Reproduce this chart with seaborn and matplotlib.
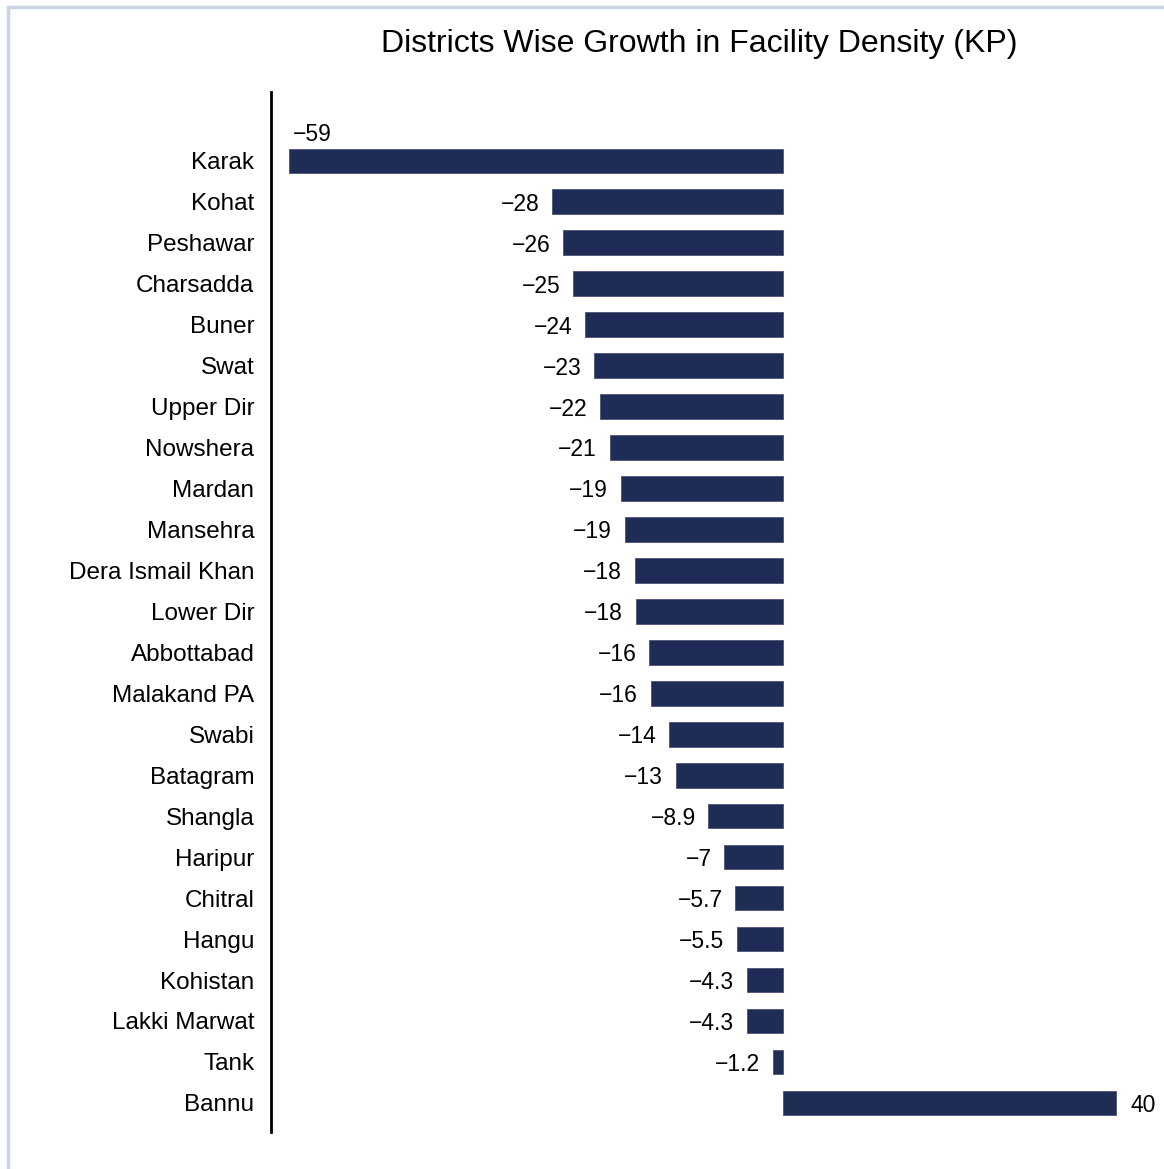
import seaborn as sns
import matplotlib.pyplot as plt
from matplotlib.lines import Line2D
import pandas as pd

# data
districts = ["Karak", "Kohat", "Peshawar", "Charsadda", "Buner", "Swat", "Upper Dir",
             "Nowshera", "Mardan", "Mansehra", "Dera Ismail Khan", "Lower Dir",
             "Abbottabad", "Malakand PA", "Swabi", "Batagram", "Shangla", "Haripur",
             "Chitral", "Hangu", "Kohistan", "Lakki Marwat", "Tank", "Bannu"]
growth = [-59.1, -27.6, -26.3, -25.1, -23.6, -22.6, -21.8,
          -20.7, -19.4, -18.9, -17.7, -17.6,
          -16.0, -15.8, -13.6, -12.8, -8.9, -7.0,
          -5.7, -5.5, -4.3, -4.3, -1.2, 39.8]

df = pd.DataFrame({"district": districts, "growth": growth})

sns.set_theme(style="white")
plt.rcParams['font.family'] = ['Liberation Sans', 'DejaVu Sans']

fig = plt.figure(figsize=(11.64, 11.69), dpi=100)
ax = fig.add_axes([271 / 1164, 1 - 1132 / 1169, 1 - 271 / 1164, (1132 - 92) / 1169])

bar_color = "#1f2c55"
sns.barplot(data=df, x="growth", y="district", orient="h", color=bar_color,
            saturation=1, width=0.6, edgecolor="#4a5475", linewidth=0.6, ax=ax)

ax.set_xlim(-61.2, 45.6)
ax.set_ylim(len(districts) - 1 + 0.71, -1.68)

for i, v in enumerate(growth):
    txt = f"{v:.2g}".replace("-", "\u2212")
    if v < -50:
        # no room on the left: put it above the bar
        ax.text(v + 0.5, i - 0.36, txt, ha="left", va="bottom", fontsize=16.5, color="black")
    elif v < 0:
        ax.text(v - 1.5, i + 0.06, txt, ha="right", va="center", fontsize=16.5, color="black")
    else:
        ax.text(v + 1.8, i + 0.06, txt, ha="left", va="center", fontsize=16.5, color="black")

ax.set_xlabel("")
ax.set_ylabel("")
ax.set_xticks([])
ax.tick_params(axis="y", length=0, pad=12, labelsize=17.5, labelcolor="black")
for lab in ax.get_yticklabels():
    lab.set_va("center_baseline")
for side in ["top", "right", "bottom"]:
    ax.spines[side].set_visible(False)
ax.spines["left"].set_color("black")
ax.spines["left"].set_linewidth(2)

fig.text(699.5 / 1164, 1 - 44 / 1169, "Districts Wise Growth in Facility Density (KP)",
         ha="center", va="center", fontsize=23, color="black")

# light frame round the figure (top and left edges visible in the reference)
frame_color = "#c9d5e4"
fig.add_artist(Line2D([7.5 / 1164, 1], [1 - 7 / 1169, 1 - 7 / 1169], color=frame_color, lw=2.5))
fig.add_artist(Line2D([7.5 / 1164, 7.5 / 1164], [0, 1 - 7 / 1169], color=frame_color, lw=2.5))

fig.savefig("out.png", dpi=100)
